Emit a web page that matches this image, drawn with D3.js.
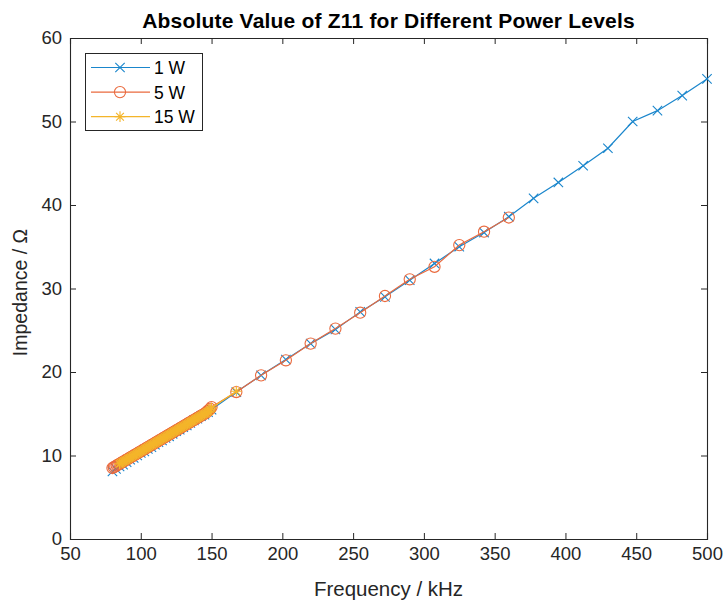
<!DOCTYPE html>
<html>
<head>
<meta charset="utf-8">
<script src="https://cdn.jsdelivr.net/npm/d3@7"></script>
<style>
  html, body { margin: 0; padding: 0; background: #fff; }
  svg { display: block; font-family: "Liberation Sans", Arial, sans-serif; }
</style>
</head>
<body>
<svg id="chart" width="725" height="602"></svg>
<script>
// Frequency sweeps (kHz) and measured |Z11| (Ohm) for each power level
const freq1W = [80, 82.5, 85, 87.5, 90, 92.5, 95, 97.5, 100, 102.5, 105, 107.5, 110, 112.5, 115,
  117.5, 120, 122.5, 125, 127.5, 130, 132.5, 135, 137.5, 140, 142.5, 145, 147.5, 150,
  167.5, 185, 202.5, 220, 237.5, 255, 272.5, 290, 307.5, 325, 342.5, 360,
  377.5, 395, 412.5, 430, 447.5, 465, 482.5, 500];
const z1W = [8.1, 8.4, 8.7, 8.9, 9.2, 9.5, 9.7, 10.0, 10.3, 10.5, 10.8, 11.0, 11.3, 11.6, 11.8,
  12.1, 12.3, 12.6, 12.9, 13.1, 13.4, 13.6, 13.9, 14.2, 14.4, 14.7, 14.9, 15.2, 15.5,
  17.6, 19.6, 21.5, 23.4, 25.1, 27.2, 29.0, 31.0, 33.0, 35.0, 36.7, 38.6,
  40.8, 42.7, 44.7, 46.8, 50.0, 51.3, 53.1, 55.1];

const freq5W = [80, 81, 82, 83, 84, 85, 86, 87, 88, 89, 90, 91, 92, 93, 94, 95, 96, 97, 98, 99,
  100, 101, 102, 103, 104, 105, 106, 107, 108, 109, 110, 111, 112, 113, 114, 115, 116, 117, 118, 119,
  120, 121, 122, 123, 124, 125, 126, 127, 128, 129, 130, 131, 132, 133, 134, 135, 136, 137, 138, 139,
  140, 141, 142, 143, 144, 145, 146, 147, 148, 149, 150,
  167.5, 185, 202.5, 220, 237.5, 255, 272.5, 290, 307.5, 325, 342.5, 360];
const z5W = [8.5, 8.6, 8.7, 8.8, 8.9, 9.0, 9.1, 9.2, 9.3, 9.4, 9.5, 9.6, 9.7, 9.8, 9.9, 10.0, 10.1, 10.2, 10.3, 10.4,
  10.5, 10.6, 10.7, 10.8, 10.9, 11.0, 11.1, 11.2, 11.3, 11.4, 11.5, 11.6, 11.7, 11.8, 11.9, 12.0, 12.1, 12.2, 12.3, 12.4,
  12.5, 12.6, 12.7, 12.8, 12.9, 13.0, 13.1, 13.2, 13.3, 13.4, 13.5, 13.6, 13.7, 13.8, 13.9, 14.0, 14.1, 14.2, 14.3, 14.4,
  14.5, 14.6, 14.7, 14.8, 14.9, 15.0, 15.1, 15.3, 15.4, 15.6, 15.8,
  17.6, 19.6, 21.4, 23.4, 25.2, 27.1, 29.1, 31.1, 32.6, 35.2, 36.8, 38.5];

const freq15W = [85, 86, 87, 88, 89, 90, 91, 92, 93, 94, 95, 96, 97, 98, 99,
  100, 101, 102, 103, 104, 105, 106, 107, 108, 109, 110, 111, 112, 113, 114, 115, 116, 117, 118, 119,
  120, 121, 122, 123, 124, 125, 126, 127, 128, 129, 130, 131, 132, 133, 134, 135, 136, 137, 138, 139,
  140, 141, 142, 143, 144, 145, 146, 147, 148, 149, 150, 167.5];
const z15W = [9.0, 9.1, 9.2, 9.3, 9.4, 9.5, 9.6, 9.7, 9.8, 9.9, 10.0, 10.1, 10.2, 10.3, 10.4,
  10.5, 10.6, 10.7, 10.8, 10.9, 11.0, 11.1, 11.2, 11.3, 11.4, 11.5, 11.6, 11.7, 11.8, 11.9, 12.0, 12.1, 12.2, 12.3, 12.4,
  12.5, 12.6, 12.7, 12.8, 12.9, 13.0, 13.1, 13.2, 13.3, 13.4, 13.5, 13.6, 13.7, 13.8, 13.9, 14.0, 14.1, 14.2, 14.3, 14.4,
  14.5, 14.6, 14.7, 14.8, 14.9, 15.0, 15.1, 15.2, 15.3, 15.5, 15.7, 17.7];

const seriesNames = ["1 W", "5 W", "15 W"];
const seriesColors = ["#1a86cc", "#ea6a3e", "#f4b52a"];
const seriesMarkers = ["x", "o", "*"];

const xTicks = [50, 100, 150, 200, 250, 300, 350, 400, 450, 500];
const yTicks = [0, 10, 20, 30, 40, 50, 60];

const titleText = "Absolute Value of Z11 for Different Power Levels";
const xLabelText = "Frequency / kHz";
const yLabelText = "Impedance / \u03A9";

const series = [
  { name: seriesNames[0], f: freq1W, z: z1W },
  { name: seriesNames[1], f: freq5W, z: z5W },
  { name: seriesNames[2], f: freq15W, z: z15W }
].map((s, i) => ({
  ...s,
  color: seriesColors[i],
  marker: seriesMarkers[i],
  points: s.f.map((f, j) => ({ f, z: s.z[j] }))
}));

const svg = d3.select("#chart");
const plot = { left: 70, right: 707, top: 38, bottom: 539 };
const axisColor = "#262626";

const x = d3.scaleLinear().domain([50, 500]).range([plot.left, plot.right]);
const y = d3.scaleLinear().domain([0, 60]).range([plot.bottom, plot.top]);

// Marker shapes drawn around (0,0)
function markerPath(type, r) {
  if (type === "x") {
    return `M${-r},${-r}L${r},${r}M${-r},${r}L${r},${-r}`;
  }
  const d = r * 0.72;
  return `M0,${-r}L0,${r}M${-r},0L${r},0M${-d},${-d}L${d},${d}M${-d},${d}L${d},${-d}`;
}

function drawMarker(g, type, color) {
  if (type === "o") {
    g.append("circle").attr("r", 5.6).attr("fill", "none")
      .attr("stroke", color).attr("stroke-width", 1.1);
  } else {
    g.append("path").attr("d", markerPath(type, type === "x" ? 4.7 : 5.4))
      .attr("fill", "none").attr("stroke", color).attr("stroke-width", 1.1);
  }
}

// Axes (ticks pointing inward, box on all four sides)
const xAxisBottom = d3.axisBottom(x).tickValues(xTicks).tickSize(-6).tickPadding(8);
const xAxisTop = d3.axisTop(x).tickValues(xTicks).tickSize(-6).tickFormat("");
const yAxisLeft = d3.axisLeft(y).tickValues(yTicks).tickSize(-6).tickPadding(8);
const yAxisRight = d3.axisRight(y).tickValues(yTicks).tickSize(-6).tickFormat("");

function styleAxis(g) {
  g.select(".domain").attr("stroke", axisColor).attr("stroke-width", 1.1);
  g.selectAll(".tick line").attr("stroke", axisColor).attr("stroke-width", 1);
  g.selectAll(".tick text").attr("fill", axisColor).attr("font-size", 18.5)
    .attr("font-family", "Liberation Sans, Arial, sans-serif");
}

svg.append("g").attr("transform", `translate(0,${plot.bottom})`).call(xAxisBottom).call(styleAxis);
svg.append("g").attr("transform", `translate(0,${plot.top})`).call(xAxisTop).call(styleAxis);
svg.append("g").attr("transform", `translate(${plot.left},0)`).call(yAxisLeft).call(styleAxis);
svg.append("g").attr("transform", `translate(${plot.right},0)`).call(yAxisRight).call(styleAxis);

// Series lines and markers
const line = d3.line().x(d => x(d.f)).y(d => y(d.z));
const plotArea = svg.append("g");
series.forEach(s => {
  const g = plotArea.append("g");
  g.append("path").datum(s.points).attr("d", line)
    .attr("fill", "none").attr("stroke", s.color).attr("stroke-width", 1.2);
  g.selectAll("g.mk").data(s.points).join("g").attr("class", "mk")
    .attr("transform", d => `translate(${x(d.f)},${y(d.z)})`)
    .each(function () { drawMarker(d3.select(this), s.marker, s.color); });
});

// Title and axis labels
svg.append("text").attr("x", (plot.left + plot.right) / 2).attr("y", 28)
  .attr("text-anchor", "middle").attr("font-size", 21).attr("font-weight", "bold")
  .attr("letter-spacing", 0.2).attr("fill", "#000").text(titleText);
svg.append("text").attr("x", (plot.left + plot.right) / 2).attr("y", 596)
  .attr("text-anchor", "middle").attr("font-size", 20.5).attr("fill", axisColor).text(xLabelText);
svg.append("text").attr("transform", `translate(27,${(plot.top + plot.bottom) / 2 + 4}) rotate(-90)`)
  .attr("text-anchor", "middle").attr("font-size", 19.5).attr("fill", axisColor).text(yLabelText);

// Legend
const legend = svg.append("g");
legend.append("rect").attr("x", 85.5).attr("y", 53.5).attr("width", 117).attr("height", 77)
  .attr("fill", "#fff").attr("stroke", axisColor).attr("stroke-width", 1);
series.forEach((s, i) => {
  const ly = 67.5 + i * 24.6;
  legend.append("line").attr("x1", 91).attr("x2", 150).attr("y1", ly).attr("y2", ly)
    .attr("stroke", s.color).attr("stroke-width", 1.2);
  const m = legend.append("g").attr("transform", `translate(120,${ly})`);
  drawMarker(m, s.marker, s.color);
  legend.append("text").attr("x", 154).attr("y", ly + 6.5).attr("font-size", 17.5)
    .attr("fill", "#000").text(s.name);
});
</script>
</body>
</html>
